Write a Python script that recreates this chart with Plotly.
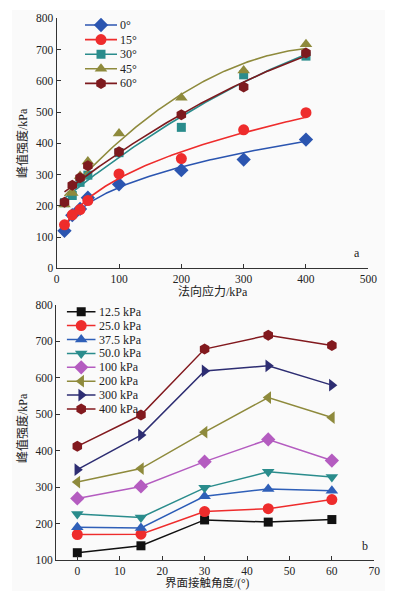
import numpy as np
import plotly.graph_objects as go

# ---------------- data ----------------
angles = [0, 15, 30, 45, 60]
angle_labels = ["0°", "15°", "30°", "45°", "60°"]
normal_stress = [12.5, 25, 37.5, 50, 100, 200, 300, 400]
stress_labels = ["12.5 kPa", "25.0 kPa", "37.5 kPa", "50.0 kPa",
                 "100 kPa", "200 kPa", "300 kPa", "400 kPa"]

# peak strength (kPa) for each normal stress, across angles 0,15,30,45,60
peak_12_5 = [120, 139, 210, 204, 211]
peak_25 = [170, 171, 233, 241, 266]
peak_37_5 = [190, 188, 275, 295, 290]
peak_50 = [226, 217, 298, 342, 328]
peak_100 = [269, 302, 370, 431, 373]
peak_200 = [314, 351, 451, 546, 491]
peak_300 = [348, 443, 619, 633, 580]
peak_400 = [412, 498, 679, 717, 689]
peak_by_stress = [peak_12_5, peak_25, peak_37_5, peak_50,
                  peak_100, peak_200, peak_300, peak_400]

fit_kind = ["power", "power", "poly2", "poly2", "poly2"]

# ---------------- styles ----------------
top_colors = ["#2b55b0", "#ee2c2c", "#2a8c8c", "#8e8a3c", "#7d1a1e"]
top_symbols = ["diamond", "circle", "square", "triangle-up", "hexagon"]
top_sizes = [11, 11, 9, 11, 11]

bot_colors = ["#111111", "#ee2c2c", "#2f5fb8", "#2a8c8c",
              "#b45cc0", "#8e8a3c", "#2d2d72", "#82191e"]
bot_symbols = ["square", "circle", "triangle-up", "triangle-down",
               "diamond", "triangle-left", "triangle-right", "hexagon"]
bot_sizes = [9, 11, 11, 11, 11, 11, 11, 11]

# page has an 8px body margin, so the figure is 8px smaller and shifted
OFF = 8
W, H = 395 - OFF, 596 - OFF
SERIF = "Liberation Serif, Noto Sans CJK SC"
AXC = "#333333"

def px_x(p):
    return (p - OFF) / W

def px_y(p):
    return 1 - (p - OFF) / H

fig = go.Figure()

# ---------------- top chart ----------------
for j, lab in enumerate(angle_labels):
    ys = [row[j] for row in peak_by_stress]
    xs = normal_stress
    fig.add_trace(go.Scatter(
        x=xs, y=ys, mode="markers", xaxis="x", yaxis="y", showlegend=False,
        marker=dict(symbol=top_symbols[j], size=top_sizes[j], color=top_colors[j]),
        name=lab, cliponaxis=False))
    xx = np.linspace(min(xs), max(xs), 150)
    if fit_kind[j] == "power":
        b, lna = np.polyfit(np.log(xs), np.log(ys), 1)
        yy = np.exp(lna) * xx ** b
    else:
        yy = np.polyval(np.polyfit(xs, ys, 2), xx)
    fig.add_trace(go.Scatter(
        x=xx, y=yy, mode="lines", xaxis="x", yaxis="y", showlegend=False,
        line=dict(color=top_colors[j], width=1.6), hoverinfo="skip"))

# ---------------- bottom chart ----------------
for i, lab in enumerate(stress_labels):
    fig.add_trace(go.Scatter(
        x=angles, y=peak_by_stress[i], mode="lines+markers", xaxis="x2", yaxis="y2",
        showlegend=False, name=lab, cliponaxis=False,
        line=dict(color=bot_colors[i], width=1.5),
        marker=dict(symbol=bot_symbols[i], size=bot_sizes[i], color=bot_colors[i])))

# ---------------- manual legends ----------------
annotations = []
for j, lab in enumerate(angle_labels):
    fig.add_trace(go.Scatter(x=[0, 2], y=[j, j], mode="lines", xaxis="x3", yaxis="y3",
                             showlegend=False, line=dict(color=top_colors[j], width=1.6),
                             hoverinfo="skip"))
    fig.add_trace(go.Scatter(x=[1], y=[j], mode="markers", xaxis="x3", yaxis="y3",
                             showlegend=False, hoverinfo="skip",
                             marker=dict(symbol=top_symbols[j], size=top_sizes[j],
                                         color=top_colors[j])))
    annotations.append(dict(x=2, y=j, xref="x3", yref="y3", text=lab, showarrow=False,
                            xanchor="left", yanchor="middle", xshift=1,
                            font=dict(family=SERIF, size=12, color="#222")))

for i, lab in enumerate(stress_labels):
    fig.add_trace(go.Scatter(x=[0, 2], y=[i, i], mode="lines", xaxis="x4", yaxis="y4",
                             showlegend=False, line=dict(color=bot_colors[i], width=1.5),
                             hoverinfo="skip"))
    fig.add_trace(go.Scatter(x=[1], y=[i], mode="markers", xaxis="x4", yaxis="y4",
                             showlegend=False, hoverinfo="skip",
                             marker=dict(symbol=bot_symbols[i], size=bot_sizes[i],
                                         color=bot_colors[i])))
    annotations.append(dict(x=2, y=i, xref="x4", yref="y4", text=lab, showarrow=False,
                            xanchor="left", yanchor="middle", xshift=1,
                            font=dict(family=SERIF, size=12, color="#222")))

# ---------------- titles / labels ----------------
title_font = dict(family=SERIF, size=12, color="#222")
label_common = dict(xref="paper", yref="paper", showarrow=False,
                    xanchor="center", yanchor="middle", borderpad=0)
annotations += [
    dict(x=px_x(213), y=px_y(291), text="法向应力/kPa", font=title_font, **label_common),
    dict(x=px_x(208), y=px_y(583), text="界面接触角度/(°)",
         font=dict(family=SERIF, size=11.5, color="#222"), **label_common),
    dict(x=px_x(22), y=px_y(143), text="峰值强度/kPa", textangle=-90, font=title_font,
         **label_common),
    dict(x=px_x(22), y=px_y(428), text="峰值强度/kPa", textangle=-90, font=title_font,
         **label_common),
    dict(x=px_x(357), y=px_y(252.5), text="a",
         font=dict(family=SERIF, size=12, color="#222"), **label_common),
    dict(x=px_x(364.5), y=px_y(545.5), text="b",
         font=dict(family=SERIF, size=12, color="#222"), **label_common),
]

tickfont = dict(family=SERIF, size=11.5, color="#222")
axis_common = dict(showgrid=False, zeroline=False, showline=True, linecolor=AXC,
                   linewidth=1.3, ticks="inside", ticklen=4, tickcolor=AXC,
                   tickwidth=1.2, tickfont=tickfont, automargin=False)
hidden = dict(visible=False, showgrid=False, zeroline=False, fixedrange=True)

fig.update_layout(
    width=W, height=H,
    margin=dict(l=0, r=0, t=0, b=0, pad=0, autoexpand=False),
    paper_bgcolor="white", plot_bgcolor="rgba(0,0,0,0)",
    showlegend=False,
    xaxis=dict(domain=[px_x(56.7), px_x(368.3)], range=[0, 500], dtick=100,
               anchor="y", **axis_common),
    yaxis=dict(domain=[px_y(268.3), px_y(18.3)], range=[0, 800], dtick=100,
               anchor="x", **axis_common),
    xaxis2=dict(domain=[px_x(56.1), px_x(374.3)], range=[-5, 70], dtick=10,
                tick0=0, anchor="y2", **axis_common),
    yaxis2=dict(domain=[px_y(560), px_y(305)], range=[100, 800], dtick=100,
                anchor="x2", **axis_common),
    xaxis3=dict(domain=[px_x(85), px_x(117)], range=[0, 2], anchor="y3", **hidden),
    yaxis3=dict(domain=[px_y(25 + 14.6 * 4.5), px_y(25 - 14.6 * 0.5)],
                range=[4.5, -0.5], anchor="x3", **hidden),
    xaxis4=dict(domain=[px_x(66.7), px_x(95.7)], range=[0, 2], anchor="y4", **hidden),
    yaxis4=dict(domain=[px_y(311.7 + 13.9 * 7.5), px_y(311.7 - 13.9 * 0.5)],
                range=[7.5, -0.5], anchor="x4", **hidden),
    annotations=annotations,
    shapes=[dict(type="rect", xref="paper", yref="paper", x0=px_x(12), x1=px_x(385),
                 y0=px_y(591), y1=px_y(10), fillcolor="#fafafa", line=dict(width=0),
                 layer="below")],
)

fig.write_html("out.html")
